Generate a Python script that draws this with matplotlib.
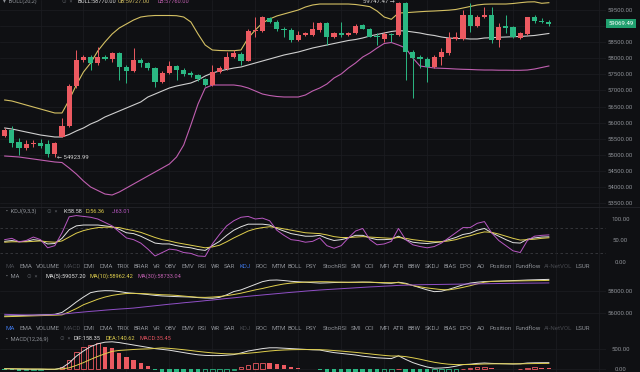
import matplotlib.pyplot as plt
from matplotlib.transforms import blended_transform_factory
import numpy as np

# ---- candles (open, high, low, close) ----
opens = [55584, 55770, 55407, 55220, 55330, 55376, 55335, 55024, 55562, 55895,
         57138, 57946, 58049, 57843, 58049, 57968, 58154, 57738, 57613, 57946,
         57843, 57688, 57272, 57551, 57760, 57635, 57533, 57470, 57346, 57169,
         57582, 57657, 58049, 58132, 57924, 58838, 58857, 59242, 59136, 58900,
         58878, 58568, 58723, 58714, 58878, 59087, 58652, 58776, 58714, 58776,
         59034, 58900, 58692, 58589, 58745, 58723, 59708, 58204, 58030, 57968,
         57738, 58030, 58154, 58589, 58589, 59345, 59003, 59273, 59345, 58568,
         59003, 58962, 58620, 58754, 59273, 59167, 59136]
highs = [55833, 55895, 55522, 55460, 55460, 55481, 55460, 55407, 56134, 57200,
         58257, 58101, 58101, 58359, 58101, 58204, 58204, 57791, 58310, 57999,
         57893, 57738, 57604, 57915, 57791, 57697, 57604, 57511, 57387, 57791,
         57760, 58204, 58257, 58204, 58900, 59292, 59314, 59292, 59189, 58981,
         58931, 58857, 58816, 59136, 59136, 59136, 58816, 59136, 58816, 59065,
         59065, 58941, 58776, 58826, 58776, 59747.47, 59740, 58257, 58101, 58049,
         58101, 58310, 58826, 58826, 59500, 59708, 59345, 59600, 59600, 59087,
         59345, 59003, 58816, 59292, 59345, 59242, 59189]
lows = [55553, 55242, 54993, 55149, 55251, 55202, 54940, 54923.99, 55544, 55864,
        57076, 57893, 57635, 57791, 57946, 57893, 57324, 57222, 57582, 57738,
        57635, 57098, 57231, 57511, 57324, 57449, 57418, 57293, 57138, 57138,
        57551, 57635, 57999, 57791, 57915, 58670, 58826, 59087, 58857, 58652,
        58515, 58546, 58692, 58692, 58826, 58412, 58630, 58670, 58692, 58754,
        58900, 58652, 58412, 58515, 58515, 58692, 57324, 56756, 57688, 57272,
        57688, 57791, 58101, 58568, 58568, 58826, 58962, 59242, 58465, 58359,
        58776, 58620, 58589, 58723, 59087, 59087, 59003]
closes = [55770, 55376, 55220, 55335, 55376, 55283, 55024, 55376, 55895, 57138,
          57946, 58049, 57862, 58049, 57968, 58173, 57738, 57613, 57946, 57843,
          57688, 57272, 57551, 57760, 57635, 57511, 57470, 57346, 57169, 57582,
          57688, 58049, 58154, 57924, 58857, 58878, 59273, 59136, 58900, 58870,
          58568, 58732, 58776, 58900, 59087, 58652, 58776, 58714, 58776, 59003,
          58919, 58670, 58652, 58745, 58714, 59708, 58204, 57999, 57968, 57738,
          58049, 58204, 58620, 58652, 59345, 59003, 59273, 59345, 58568, 58962,
          58931, 58652, 58776, 59273, 59167, 59127, 59069.49]

# ---- BOLL(20,2) ----
boll_up = [56703, 56672, 56610, 56547, 56485, 56423, 56361, 56299, 56299, 56703,
           57169, 57573, 57853, 58226, 58505, 58754, 58941, 59065, 59189, 59282,
           59314, 59329, 59329, 59329, 59323, 59282, 59127, 58754, 58412, 58257,
           58241, 58235, 58235, 58257, 58630, 58878, 59096, 59220, 59314, 59376,
           59438, 59500, 59593, 59656, 59686, 59686, 59686, 59686, 59686, 59671,
           59640, 59603, 59469, 59282, 59211, 59407, 59416, 59432, 59447, 59460,
           59469, 59481, 59494, 59516, 59562, 59609, 59656, 59680, 59686, 59686,
           59686, 59702, 59727, 59749, 59755, 59708, 59727]
boll_mid = [55833, 55802, 55755, 55708, 55662, 55615, 55584, 55553, 55553, 55631,
            55740, 55833, 55957, 56050, 56175, 56268, 56361, 56454, 56548, 56641,
            56796, 56889, 56983, 57076, 57138, 57185, 57231, 57324, 57449, 57542,
            57604, 57651, 57697, 57728, 57791, 57853, 57915, 57977, 58039, 58101,
            58148, 58195, 58257, 58319, 58366, 58412, 58459, 58505, 58552, 58583,
            58630, 58692, 58739, 58785, 58832, 58857, 58847, 58816, 58785, 58739,
            58708, 58661, 58630, 58614, 58614, 58599, 58599, 58630, 58639, 58652,
            58661, 58670, 58677, 58692, 58708, 58739, 58770]
boll_low = [54962, 54947, 54931, 54900, 54869, 54838, 54807, 54776, 54760, 54589,
            54403, 54185, 53999, 53890, 53781, 53750, 53843, 53967, 54092, 54216,
            54341, 54465, 54589, 54714, 54931, 55304, 55926, 56579, 57076, 57169,
            57169, 57169, 57169, 57138, 57076, 56983, 56889, 56843, 56812, 56796,
            56796, 56796, 56858, 56983, 57076, 57200, 57387, 57511, 57697, 57853,
            58039, 58164, 58319, 58459, 58490, 58412, 58319, 58008, 57760, 57728,
            57697, 57688, 57679, 57666, 57657, 57651, 57641, 57635, 57635, 57629,
            57629, 57626, 57626, 57635, 57666, 57713, 57760]

# ---- KDJ(9,3,3) ----
kdj_k = [48, 50, 47, 48, 52, 50, 42, 43, 55, 75, 84, 86, 86, 86, 84, 82, 76, 68, 66, 60,
         52, 44, 42, 42, 38, 35, 33, 29, 27, 38, 48, 62, 74, 82, 88, 88, 88, 86, 78, 72,
         66, 63, 60, 60, 62, 55, 50, 52, 56, 62, 62, 56, 52, 52, 53, 60, 52, 46, 44, 43,
         45, 47, 52, 57, 64, 67, 74, 78, 68, 60, 52, 45, 44, 53, 56, 58, 58.58]
kdj_d = [46, 47, 47, 47, 48, 49, 47, 46, 49, 58, 67, 73, 77, 80, 81, 81, 80, 76, 73, 69,
         63, 57, 52, 49, 45, 42, 39, 36, 33, 35, 39, 47, 56, 64, 72, 77, 80, 82, 80, 77,
         74, 71, 68, 67, 66, 63, 59, 57, 57, 58, 59, 58, 57, 56, 55, 57, 55, 52, 50, 48,
         47, 47, 49, 52, 57, 61, 66, 70, 69, 65, 60, 55, 51, 52, 53, 55, 56.36]
kdj_j = [52, 55, 47, 50, 58, 52, 33, 38, 68, 105, 108, 106, 104, 100, 92, 84, 70, 56, 52, 44,
         30, 14, 22, 30, 28, 22, 20, 14, 13, 42, 64, 84, 96, 104, 106, 100, 102, 96, 74, 62,
         52, 50, 46, 48, 56, 38, 32, 38, 56, 72, 78, 52, 40, 42, 48, 78, 52, 40, 36, 33,
         36, 44, 56, 68, 80, 80, 90, 94, 68, 50, 38, 26, 22, 50, 60, 62, 63.01]

# ---- MA panel ----
ma5 = [55720, 55740, 55760, 55780, 55800, 55830, 55850, 55880, 56050, 56500,
       57000, 57450, 57850, 57980, 58030, 58020, 57950, 57850, 57790, 57740,
       57680, 57600, 57550, 57520, 57490, 57470, 57450, 57400, 57360, 57340,
       57420, 57650, 57950, 58100, 58350, 58600, 58850, 58980, 59000, 58950,
       58880, 58840, 58800, 58760, 58720, 58740, 58770, 58790, 58790, 58800,
       58810, 58800, 58760, 58720, 58700, 58800, 58700, 58500, 58300, 58100,
       57940, 57980, 58150, 58350, 58560, 58720, 58800, 58860, 58880, 58900,
       58930, 58950, 58970, 59000, 59020, 59040, 59057.20]
ma10 = [55660, 55680, 55700, 55720, 55740, 55760, 55780, 55800, 55830, 56100,
        56400, 56750, 57000, 57250, 57450, 57600, 57700, 57770, 57790, 57770,
        57740, 57700, 57660, 57640, 57600, 57540, 57480, 57430, 57420, 57450,
        57500, 57580, 57680, 57800, 57950, 58100, 58230, 58380, 58520, 58640,
        58720, 58770, 58810, 58830, 58845, 58840, 58820, 58800, 58790, 58790,
        58800, 58800, 58780, 58760, 58750, 58760, 58650, 58500, 58380, 58280,
        58200, 58130, 58100, 58200, 58330, 58480, 58650, 58800, 58870, 58890,
        58900, 58910, 58920, 58930, 58940, 58950, 58962.42]
ma30 = [55880, 55860, 55840, 55830, 55820, 55820, 55830, 55860, 55900, 55960,
        56030, 56090, 56150, 56200, 56260, 56310, 56360, 56400, 56450, 56520,
        56590, 56660, 56730, 56800, 56860, 56930, 56990, 57050, 57120, 57180,
        57250, 57320, 57380, 57450, 57520, 57580, 57640, 57700, 57760, 57820,
        57880, 57930, 57990, 58040, 58090, 58130, 58170, 58210, 58250, 58290,
        58330, 58370, 58400, 58440, 58470, 58510, 58530, 58550, 58570, 58580,
        58590, 58600, 58610, 58620, 58630, 58640, 58650, 58660, 58670, 58680,
        58690, 58700, 58705, 58712, 58718, 58725, 58733.04]

# ---- MACD(12,26,9) ----
dif = [10, 5, 0, -5, -5, -5, -10, -10, 30, 150, 320, 450, 560, 630, 670, 680, 660, 630,
       600, 570, 540, 510, 490, 470, 440, 410, 380, 355, 340, 335, 335, 345, 360, 400,
       450, 480, 510, 530, 530, 520, 510, 500, 490, 480, 475, 440, 410, 390, 370, 350,
       320, 300, 280, 270, 260, 330, 240, 160, 100, 50, 20, 25, 40, 70, 110, 120, 140,
       150, 140, 135, 130, 125, 130, 150, 155, 157, 158.35]
dea = [5, 5, 4, 2, 0, -1, -3, -4, 3, 30, 90, 160, 240, 315, 380, 440, 464, 476, 488, 498,
       502, 515, 528, 516, 500, 482, 462, 440, 420, 403, 390, 380, 376, 380, 394, 410,
       430, 450, 465, 475, 482, 485, 486, 485, 483, 475, 462, 448, 432, 416, 397, 378,
       358, 340, 325, 325, 310, 280, 245, 205, 168, 140, 120, 110, 110, 112, 118, 125,
       128, 130, 130, 129, 129, 133, 136, 139, 140.62]
hist = [-20, -30, -40, -30, -20, -15, -20, -10, 50, 225, 433, 558, 600, 643, 558, 518,
        393, 308, 225, 143, 75, -20, -76, -92, -120, -144, -164, -170, -160, -136,
        -110, -70, -32, 40, 112, 140, 160, 160, 130, 90, 56, 30, 8, -10, -16, -70,
        -104, -116, -124, -132, -154, -156, -156, -140, -130, 10, -140, -240, -290,
        -310, -296, -230, -160, -80, 0, 16, 44, 50, 24, 10, 0, -8, 2, 34, 38, 36, 35.45]

price_ticks = [53500, 54000, 54500, 55000, 55500, 56000, 56500, 57000, 57500,
               58000, 58500, 59000, 59500]

tabs = ['MA', 'EMA', 'VOLUME', 'MACD', 'DMI', 'DMA', 'TRIX', 'BRAR', 'VR', 'OBV',
        'EMV', 'RSI', 'WR', 'SAR', 'KDJ', 'ROC', 'MTM', 'BOLL', 'PSY', 'StochRSI',
        'SMI', 'CCI', 'MFI', 'ATR', 'BBW', 'SKDJ', 'BIAS', 'DPO', 'AO', 'Position',
        'Fundflow', 'AI-NetVOL', 'LSUR']
tab_x = [6, 19, 36, 63, 84, 99, 117, 133, 153, 165, 181, 197, 211, 224, 240, 255,
         271, 288, 306, 323, 351, 365, 379, 393, 408, 425, 443, 460, 477, 489, 515,
         544, 575]

BG = '#0f1013'
RED = '#ec5a61'
GREEN = '#2bb883'
GRID = '#1c1d22'
TXT = '#8e9197'
W, H = 640, 372

fig = plt.figure(figsize=(6.4, 3.72), dpi=100, facecolor=BG)
plt.rcParams['font.family'] = ['Roboto', 'DejaVu Sans']


def px_axes(x0, y0, x1, y1):
    a = fig.add_axes([x0 / W, 1 - y1 / H, (x1 - x0) / W, (y1 - y0) / H])
    a.set_facecolor(BG)
    for s in a.spines.values():
        s.set_visible(False)
    a.tick_params(axis='x', bottom=False, labelbottom=False)
    return a


def ptext(x, y, s, **kw):
    kw.setdefault('fontsize', 4.1)
    kw.setdefault('color', TXT)
    fig.text(x / W, 1 - y / H, s, va='center', **kw)


n = len(closes)
idx = np.arange(n)
# candle i sits at pixel 4.7 + 7.16*i, plot area is 606 px wide
xlim = (-4.7 / 7.16, (606 - 4.7) / 7.16)
vgrid = np.arange(5, 84, 6)


def style_right(a, ticks, labels):
    a.set_yticks(ticks, labels)
    a.yaxis.tick_right()
    a.tick_params(axis='y', length=0, pad=10.5, labelsize=4.3, colors=TXT)
    for lb in a.get_yticklabels():
        lb.set_horizontalalignment('center')


# ---------- main price panel ----------
ax = px_axes(0, 0, 606, 207)
ax.set_xlim(*xlim)
ax.set_ylim(59810.8 - 31.08 * 207, 59810.8)
for p in price_ticks:
    ax.axhline(p, color=GRID, lw=0.5, zorder=0)
for g in vgrid:
    ax.axvline(g, color=GRID, lw=0.5, zorder=0)
# the 59000 label sits under the last-price tag
style_right(ax, price_ticks, ['' if p == 59000 else f'{p:.2f}' for p in price_ticks])

o = np.array(opens); c = np.array(closes)
up = c >= o
cols = np.where(up, RED, GREEN)
ax.vlines(idx, lows, highs, colors=cols, lw=0.7, zorder=2)
body = np.maximum(np.abs(c - o), 28)
ax.bar(idx, body, bottom=np.minimum(o, c), width=0.72, color=cols, lw=0, zorder=3)

ax.plot(idx, boll_up, color='#d4c063', lw=0.8, zorder=1)
ax.plot(idx, boll_mid, color='#cfcfcf', lw=0.8, zorder=1)
ax.plot(idx, boll_low, color='#c05fb0', lw=0.8, zorder=1)

ax.text(7.3, lows[7], '\u2190 54923.99', fontsize=4.3, color='#d0d0d0', va='center', ha='left')
ax.text(54.5, 59770, '59747.47 \u2192', fontsize=4.3, color='#d0d0d0', va='center', ha='right')

tr = blended_transform_factory(ax.transAxes, ax.transData)
ax.text(621 / 606, closes[-1], f'{closes[-1]:.2f}', transform=tr, ha='center', va='center',
        fontsize=4.3, color='white',
        bbox=dict(boxstyle='square,pad=0.35', fc='#20a06f', ec='none'))

ptext(3, 1.5, '\u25be  BOLL(20,2)', color=TXT)
ptext(62, 1.5, '\u2299  \u00d7', color='#55585e')
ptext(77, 1.5, f'BOLL:{boll_mid[-1]:.2f}', color='#d6d6d6')
ptext(118, 1.5, f'UB:{boll_up[-1]:.2f}', color='#d4c063')
ptext(158, 1.5, f'LB:{boll_low[-1]:.2f}', color='#c05fb0')

# ---------- KDJ panel ----------
kx = px_axes(0, 207, 606, 271)
kx.set_xlim(*xlim)
kx.set_ylim((262 - 271) / 0.43, (262 - 207) / 0.43)
for v in (80, 20):
    kx.axhline(v, color='#3a3b40', lw=0.6, ls=(0, (3, 3)), zorder=0)
for g in vgrid:
    kx.axvline(g, color=GRID, lw=0.5, zorder=0)
style_right(kx, [0, 50, 100], ['0.00', '50.00', '100.00'])
kx.plot(idx, kdj_k, color='#e2e2e2', lw=0.7)
kx.plot(idx, kdj_d, color='#e0cf4d', lw=0.7)
kx.plot(idx, kdj_j, color='#b958c3', lw=0.7)

ptext(6, 211, '\u2022  KDJ(9,3,3)')
ptext(47, 211, '\u2299  \u00d7', color='#55585e')
ptext(63, 211, f'K:{kdj_k[-1]:.2f}', color='#e2e2e2')
ptext(85, 211, f'D:{kdj_d[-1]:.2f}', color='#e0cf4d')
ptext(112, 211, f'J:{kdj_j[-1]:.2f}', color='#b958c3')

# ---------- MA panel ----------
mx = px_axes(0, 271, 606, 333)
mx.set_xlim(*xlim)
mx.set_ylim(58000 - (333 - 291) * 90.9, 58000 + (291 - 271) * 90.9)
for g in vgrid:
    mx.axvline(g, color=GRID, lw=0.5, zorder=0)
for v in (56000, 58000):
    mx.axhline(v, color=GRID, lw=0.5, zorder=0)
style_right(mx, [56000, 58000], ['56000.00', '58000.00'])
mx.plot(idx, ma5, color='#e2e2e2', lw=0.7)
mx.plot(idx, ma10, color='#e0cf4d', lw=0.7)
mx.plot(idx, ma30, color='#9150c8', lw=0.7)

ptext(6, 276, '\u2022  MA')
ptext(27, 276, '\u2299  \u00d7', color='#55585e')
ptext(46, 276, f'MA(5):{ma5[-1]:.2f}', color='#e2e2e2')
ptext(89, 276, f'MA(10):{ma10[-1]:.2f}', color='#e0cf4d')
ptext(137, 276, f'MA(30):{ma30[-1]:.2f}', color='#c05fb0')

# ---------- MACD panel ----------
cx = px_axes(0, 333, 606, 372)
cx.set_xlim(*xlim)
cx.set_ylim((369 - 372) * 25, (369 - 333) * 25)
for g in vgrid:
    cx.axvline(g, color=GRID, lw=0.5, zorder=0)
for v in (0, 500):
    cx.axhline(v, color=GRID, lw=0.5, zorder=0)
style_right(cx, [0, 500], ['0.00', '500.00'])
hv = np.array(hist)
prev = np.concatenate([[hv[0]], hv[:-1]])
for i, h in enumerate(hv):
    colr = RED if h >= 0 else GREEN
    if h > prev[i]:
        cx.bar(i, h, width=0.62, facecolor='none', edgecolor=colr, lw=0.6)
    else:
        cx.bar(i, h, width=0.62, color=colr, lw=0)
cx.plot(idx, dif, color='#e2e2e2', lw=0.7)
cx.plot(idx, dea, color='#e0cf4d', lw=0.7)

ptext(6, 339, '\u2022  MACD(12,26,9)')
ptext(60, 339, '\u2299  \u00d7', color='#55585e')
ptext(73, 339, f'DIF:{dif[-1]:.2f}', color='#e2e2e2')
ptext(106, 339, f'DEA:{dea[-1]:.2f}', color='#e0cf4d')
ptext(139, 339, f'MACD:{hist[-1]:.2f}', color='#e0525e')

# ---------- indicator tab bars ----------
for ty, active, dims in ((266, 'KDJ', ('MA', 'MACD', 'AI-NetVOL')),
                         (329, 'MA', ('MACD', 'KDJ', 'AI-NetVOL'))):
    for name, x in zip(tabs, tab_x):
        colr = '#3d74e0' if name == active else ('#45474d' if name in dims else TXT)
        ptext(x, ty, name, color=colr, fontsize=4.4)

fig.add_artist(plt.Line2D([0, 1], [1 - 207 / H] * 2, color='#24252a', lw=0.6))

fig.savefig('out.png', dpi=100, facecolor=BG)
